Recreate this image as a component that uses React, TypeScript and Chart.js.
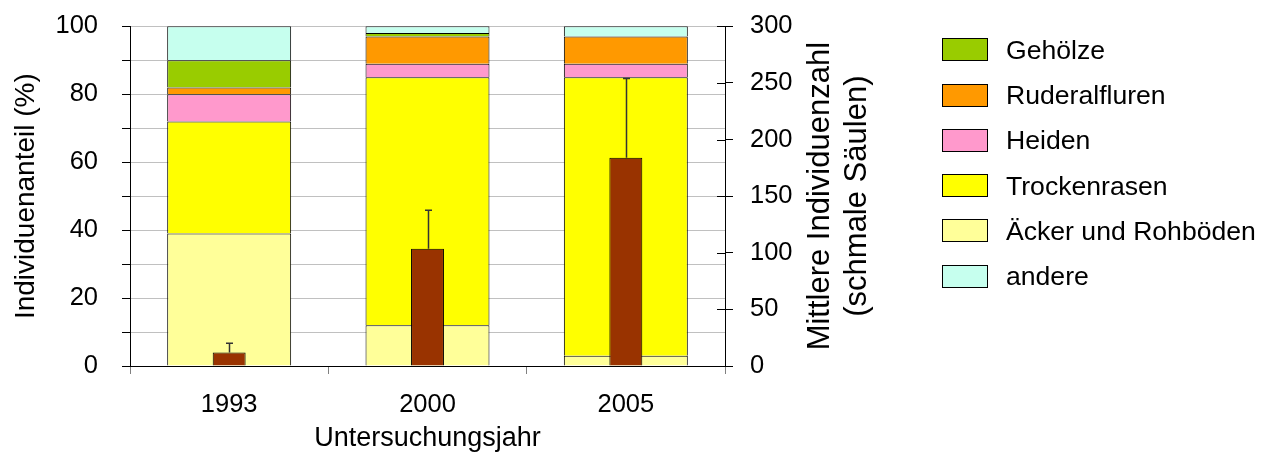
import React, { useEffect, useRef } from "react";
import { Chart, registerables } from "chart.js";

Chart.register(...registerables);

const categories = ["1993", "2000", "2005"];
const aecker = [39, 12, 3];
const trocken = [33, 73, 82];
const heiden = [8, 4, 4];
const ruderal = [2, 8, 8];
const gehoelze = [8, 1, 0];
const andere = [10, 2, 3];
const meanCount = [12, 103.5, 184];
const errCount = [8, 34, 70];

const legendItems = [
  { label: "Gehölze", color: "#99CC00" },
  { label: "Ruderalfluren", color: "#FF9900" },
  { label: "Heiden", color: "#FF99CC" },
  { label: "Trockenrasen", color: "#FFFF00" },
  { label: "Äcker und Rohböden", color: "#FFFF99" },
  { label: "andere", color: "#C6FFEE" },
];

const FONT = "'Liberation Sans', Arial, sans-serif";
const SHIFT = 13;
const CANVAS_H = 457 + SHIFT;

const extrasPlugin = {
  id: "extras",
  afterDatasetsDraw(chart: any) {
    const ctx = chart.ctx;
    const y1 = chart.scales.y1;
    const meta = chart.getDatasetMeta(0);
    ctx.save();
    ctx.strokeStyle = "#333";
    ctx.lineWidth = 1.5;
    meta.data.forEach((bar: any, i: number) => {
      const top = y1.getPixelForValue(meanCount[i] + errCount[i]);
      const x = Math.round(bar.x) + 0.5;
      ctx.beginPath();
      ctx.moveTo(x, bar.y);
      ctx.lineTo(x, top);
      ctx.moveTo(x - 3.5, top);
      ctx.lineTo(x + 3.5, top);
      ctx.stroke();
    });
    ctx.restore();
  },
  afterDraw(chart: any) {
    const ctx = chart.ctx;
    const y1 = chart.scales.y1;
    ctx.save();
    ctx.strokeStyle = "#000";
    ctx.lineWidth = 1;
    y1.ticks.forEach((t: any) => {
      const y = Math.round(y1.getPixelForValue(t.value)) + 0.5;
      ctx.beginPath();
      ctx.moveTo(y1.left - 8, y);
      ctx.lineTo(y1.left, y);
      ctx.stroke();
    });
    const cy = (chart.chartArea.top + chart.chartArea.bottom) / 2;
    ctx.fillStyle = "#000";
    ctx.font = `31px ${FONT}`;
    ctx.textAlign = "center";
    ctx.textBaseline = "middle";
    const lines = ["Mittlere Individuenzahl", "(schmale Säulen)"];
    const xs = [820, 857];
    lines.forEach((txt, i) => {
      ctx.save();
      ctx.translate(xs[i], cy);
      ctx.rotate(-Math.PI / 2);
      ctx.fillText(txt, 0, 0);
      ctx.restore();
    });
    ctx.restore();
  },
};

export default function App() {
  const canvasRef = useRef<HTMLCanvasElement | null>(null);

  useEffect(() => {
    if (!canvasRef.current) return;
    Chart.defaults.font.family = FONT;
    const wide = (label: string, data: number[], color: string) => ({
      label,
      data,
      backgroundColor: color,
      borderColor: "#000",
      borderWidth: 1,
      yAxisID: "y",
      stack: "pct",
      grouped: false,
      barPercentage: 0.625,
      categoryPercentage: 1,
    });
    const chart = new Chart(canvasRef.current, {
      type: "bar",
      data: {
        labels: categories,
        datasets: [
          {
            label: "Mittlere Individuenzahl",
            data: meanCount,
            backgroundColor: "#993300",
            borderColor: "#000",
            borderWidth: 1,
            yAxisID: "y1",
            stack: "count",
            grouped: false,
            barPercentage: 0.166,
            categoryPercentage: 1,
          } as any,
          wide("Äcker und Rohböden", aecker, "#FFFF99"),
          wide("Trockenrasen", trocken, "#FFFF00"),
          wide("Heiden", heiden, "#FF99CC"),
          wide("Ruderalfluren", ruderal, "#FF9900"),
          wide("Gehölze", gehoelze, "#99CC00"),
          wide("andere", andere, "#C6FFEE"),
        ],
      },
      options: {
        responsive: false,
        animation: false,
        layout: { padding: { left: 0, right: 397, top: 12, bottom: 0 } },
        plugins: { legend: { display: false }, tooltip: { enabled: false } },
        scales: {
          x: {
            type: "category",
            offset: true,
            grid: {
              offset: true,
              drawOnChartArea: false,
              tickLength: 8,
              color: "#808080",
              tickColor: "#808080",
            },
            border: { color: "#000" },
            ticks: { font: { size: 25.5 }, color: "#000", padding: 16 },
            title: {
              display: true,
              text: "Untersuchungsjahr",
              font: { size: 27 },
              color: "#000",
              padding: { top: 0, bottom: 2 },
            },
            afterFit: (s: any) => {
              s.height = 91;
            },
          },
          y: {
            position: "left",
            stacked: true,
            min: 0,
            max: 100,
            ticks: {
              stepSize: 10,
              font: { size: 25.5 },
              color: "#000",
              padding: 24,
              callback: (v: any) => (Number(v) % 20 === 0 ? String(v) : ""),
            },
            grid: { color: "#c0c0c0", tickColor: "#000", tickLength: 8 },
            border: { color: "#000" },
            title: {
              display: true,
              text: "Individuenanteil (%)",
              font: { size: 28 },
              color: "#000",
              padding: { top: 9, bottom: 0 },
            },
            afterFit: (s: any) => {
              s.width = 130;
            },
          },
          y1: {
            position: "right",
            min: 0,
            max: 300,
            ticks: { stepSize: 50, font: { size: 25.5 }, color: "#000", padding: 17 },
            grid: { drawOnChartArea: false, tickLength: 8, tickColor: "#000" },
            border: { color: "#000" },
            afterFit: (s: any) => {
              s.width = 150;
            },
          },
        },
      },
      plugins: [extrasPlugin],
    } as any);
    return () => chart.destroy();
  }, []);

  return (
    <div
      style={{
        position: "absolute",
        left: 0,
        top: 0,
        width: 1272,
        height: 457,
        overflow: "hidden",
        background: "#fff",
        fontFamily: FONT,
      }}
    >
      <canvas
        ref={canvasRef}
        width={1272}
        height={CANVAS_H}
        style={{ display: "block", position: "absolute", left: 0, top: -SHIFT }}
      />
      {legendItems.map((it, i) => {
        const cy = 49.7 + i * 45.3;
        return (
          <React.Fragment key={it.label}>
            <div
              style={{
                position: "absolute",
                left: 942,
                top: cy - 11.5,
                width: 46,
                height: 23,
                boxSizing: "border-box",
                border: "1px solid #000",
                background: it.color,
              }}
            />
            <div
              style={{
                position: "absolute",
                left: 1006,
                top: cy - 15,
                height: 30,
                lineHeight: "30px",
                fontSize: 26.6,
                color: "#000",
                whiteSpace: "nowrap",
              }}
            >
              {it.label}
            </div>
          </React.Fragment>
        );
      })}
    </div>
  );
}
